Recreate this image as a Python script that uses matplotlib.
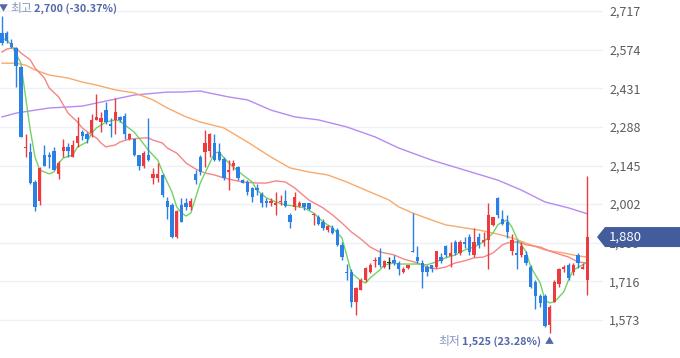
import numpy as np
import matplotlib
matplotlib.use("Agg")
import matplotlib.pyplot as plt
from matplotlib.patches import Polygon
from matplotlib.transforms import ScaledTranslation

plt.rcParams['font.family'] = ['Noto Sans CJK KR', 'DejaVu Sans']

# daily candles (open, high, low, close)
opens = [2635, 2635, 2600, 2580, 2510, 2210, 2195, 2085, 2015, 2185,
         2185, 2200, 2115, 2200, 2215, 2175, 2230, 2270, 2260, 2265,
         2315, 2305, 2350, 2300, 2315, 2325, 2330, 2245, 2245, 2185,
         2145, 2185, 2100, 2100, 2110, 2015, 2000, 1880, 2000, 2005,
         1990, 2115, 2175, 2195, 2200, 2230, 2195, 2170, 2120, 2145,
         2140, 2090, 2085, 2060, 2060, 2040, 2015, 2005, 2000, 2010,
         2015, 1960, 1990, 1995, 2005, 2005, 1960, 1955, 1935, 1905,
         1915, 1905, 1850, 1750, 1750, 1640, 1685, 1720, 1750, 1790,
         1805, 1770, 1785, 1795, 1785, 1750, 1765, 1830, 1805, 1785,
         1770, 1775, 1770, 1805, 1845, 1810, 1860, 1820, 1860, 1880,
         1815, 1880, 1860, 1870, 1925, 2025, 1945, 1935, 1830, 1820,
         1815, 1815, 1770, 1715, 1660, 1660, 1555, 1640, 1705, 1760,
         1775, 1750, 1815, 1760, 1720]
highs = [2700, 2645, 2615, 2585, 2515, 2260, 2230, 2090, 2140, 2220,
         2195, 2215, 2160, 2245, 2230, 2240, 2325, 2275, 2270, 2335,
         2410, 2345, 2380, 2320, 2395, 2330, 2340, 2265, 2245, 2185,
         2200, 2320, 2135, 2155, 2115, 2030, 2005, 1980, 2025, 2025,
         2025, 2130, 2185, 2275, 2265, 2260, 2230, 2175, 2165, 2165,
         2145, 2095, 2090, 2065, 2075, 2045, 2025, 2025, 2045, 2035,
         2055, 1970, 2045, 2015, 2005, 2005, 1970, 1960, 1945, 1925,
         1925, 1915, 1860, 1780, 1760, 1695, 1730, 1770, 1785, 1805,
         1840, 1795, 1805, 1815, 1790, 1770, 1775, 1970, 1845, 1795,
         1775, 1775, 1830, 1820, 1850, 1860, 1870, 1870, 1880, 1890,
         1915, 1895, 1900, 2005, 1955, 2030, 1980, 1960, 1890, 1870,
         1860, 1830, 1775, 1720, 1670, 1670, 1630, 1720, 1765, 1775,
         1785, 1785, 1820, 1785, 2105]
lows = [2590, 2600, 2580, 2435, 2250, 2175, 2075, 1975, 2000, 2145,
        2135, 2130, 2095, 2175, 2175, 2175, 2215, 2240, 2230, 2250,
        2315, 2270, 2300, 2250, 2260, 2305, 2245, 2240, 2180, 2130,
        2135, 2160, 2075, 2085, 2030, 1945, 1875, 1875, 1935, 1980,
        1980, 2075, 2110, 2140, 2175, 2160, 2160, 2090, 2055, 2130,
        2090, 2080, 2035, 2010, 2035, 1990, 1990, 1995, 1960, 2000,
        1990, 1915, 1980, 1990, 1980, 1980, 1925, 1925, 1905, 1900,
        1890, 1845, 1795, 1720, 1620, 1590, 1685, 1715, 1745, 1770,
        1770, 1765, 1760, 1775, 1740, 1745, 1760, 1825, 1785, 1690,
        1735, 1750, 1765, 1785, 1805, 1770, 1815, 1815, 1840, 1815,
        1805, 1840, 1845, 1760, 1920, 1950, 1925, 1875, 1815, 1760,
        1805, 1775, 1690, 1615, 1620, 1545, 1525, 1640, 1695, 1750,
        1720, 1740, 1765, 1760, 1665]
closes = [2600, 2605, 2585, 2515, 2250, 2215, 2080, 1990, 2135, 2145,
          2175, 2130, 2155, 2215, 2200, 2220, 2255, 2255, 2245, 2315,
          2325, 2320, 2305, 2290, 2345, 2315, 2260, 2260, 2185, 2145,
          2190, 2165, 2115, 2115, 2035, 1990, 1880, 1975, 1935, 1990,
          2015, 2090, 2120, 2230, 2260, 2165, 2165, 2100, 2130, 2155,
          2100, 2080, 2045, 2030, 2055, 2005, 2005, 2015, 2005, 2015,
          1995, 1935, 2030, 2005, 1990, 1985, 1965, 1930, 1915, 1920,
          1895, 1850, 1805, 1745, 1640, 1690, 1720, 1765, 1775, 1795,
          1775, 1790, 1785, 1785, 1760, 1760, 1775, 1825, 1790, 1750,
          1750, 1760, 1830, 1790, 1815, 1820, 1820, 1860, 1855, 1825,
          1860, 1850, 1870, 1960, 1955, 1960, 1930, 1900, 1870, 1815,
          1845, 1785, 1695, 1660, 1635, 1550, 1620, 1715, 1760, 1770,
          1730, 1775, 1785, 1770, 1880]

# moving averages (candle index, value)
ma5_idx = [0, 1, 2, 4, 5, 6, 7, 8, 10, 11, 12, 13, 15, 16, 18, 19, 20, 22,
           24, 25, 26, 28, 29, 31, 33, 34, 36, 37, 38, 39, 40, 41, 42, 44,
           45, 46, 47, 49, 51, 53, 54, 56, 58, 60, 62, 64, 66, 68, 70, 72,
           73, 74, 76, 77, 78, 80, 81, 83, 84, 88, 90, 92, 94, 96, 98, 100,
           102, 104, 105, 106, 107, 108, 109, 111, 112, 114, 115, 116, 117,
           119, 120, 121, 123, 124]
ma5_val = [2617, 2610, 2591, 2525, 2399, 2276, 2176, 2128, 2114, 2121, 2154,
           2173, 2184, 2214, 2232, 2265, 2284, 2306, 2314, 2310, 2295, 2269,
           2247, 2202, 2165, 2121, 2047, 1992, 1969, 1958, 1969, 2025, 2080,
           2154, 2191, 2195, 2173, 2139, 2110, 2084, 2054, 2025, 2010, 1999,
           1995, 1988, 1969, 1936, 1914, 1877, 1814, 1747, 1718, 1710, 1729,
           1758, 1777, 1784, 1780, 1780, 1777, 1788, 1803, 1814, 1832, 1843,
           1862, 1895, 1925, 1936, 1943, 1917, 1877, 1825, 1769, 1710, 1647,
           1636, 1640, 1677, 1721, 1758, 1777, 1788]
ma20_idx = [0, 1, 2, 3, 4, 6, 7, 9, 10, 12, 13, 14, 16, 17, 19, 20, 21, 22,
            24, 25, 27, 30, 31, 32, 34, 35, 37, 38, 39, 41, 43, 45, 47, 49,
            51, 54, 56, 58, 60, 62, 65, 68, 70, 72, 74, 76, 78, 80, 83, 85,
            88, 90, 92, 94, 96, 98, 100, 102, 104, 106, 107, 109, 110, 111,
            114, 116, 118, 120, 122, 124]
ma20_val = [2565, 2576, 2580, 2580, 2562, 2536, 2506, 2469, 2432, 2399, 2369,
            2339, 2306, 2284, 2258, 2247, 2228, 2214, 2221, 2232, 2243, 2247,
            2247, 2239, 2228, 2210, 2191, 2173, 2154, 2132, 2117, 2110, 2099,
            2091, 2084, 2080, 2080, 2088, 2084, 2062, 2017, 1988, 1962, 1932,
            1899, 1873, 1843, 1825, 1814, 1799, 1784, 1769, 1762, 1769, 1784,
            1792, 1803, 1806, 1821, 1851, 1858, 1862, 1858, 1851, 1843, 1828,
            1817, 1806, 1788, 1784]
ma60_idx = [0, 3, 5, 7, 10, 14, 17, 20, 24, 28, 32, 35, 39, 42, 47, 52, 57,
            61, 65, 69, 73, 77, 82, 84, 87, 91, 94, 98, 101, 105, 108, 112,
            115, 119, 122, 124]
ma60_val = [2524, 2524, 2517, 2499, 2480, 2469, 2454, 2443, 2425, 2414, 2388,
            2358, 2325, 2306, 2284, 2232, 2176, 2136, 2121, 2110, 2084, 2054,
            2017, 1992, 1969, 1943, 1925, 1914, 1906, 1891, 1877, 1851, 1832,
            1821, 1810, 1806]
ma120_idx = [0, 3, 7, 10, 14, 17, 21, 28, 35, 38, 42, 43, 48, 52, 57, 62, 67,
             73, 79, 84, 91, 98, 105, 110, 115, 120, 124]
ma120_val = [2325, 2339, 2350, 2358, 2362, 2365, 2380, 2406, 2417, 2417, 2421,
             2417, 2399, 2388, 2350, 2325, 2314, 2288, 2251, 2210, 2165, 2128,
             2091, 2054, 2010, 1988, 1966]

yticks = [1573, 1716, 1859, 2002, 2145, 2288, 2431, 2574, 2717]

up_c = '#ec3a3f'
down_c = '#2a80e4'
flat_c = '#333333'

o = np.array(opens)
h = np.array(highs)
l = np.array(lows)
c = np.array(closes)
x = np.arange(len(c))
colors = [up_c if cc > oo else (down_c if cc < oo else flat_c) for oo, cc in zip(o, c)]

fig = plt.figure(figsize=(6.8, 3.58), dpi=100)
ax = fig.add_axes([0, 0, 603 / 680, 1])
ax.set_xlim(-0.42, 127.3)
ax.set_ylim(1432, 2758)

for s in ax.spines.values():
    s.set_visible(False)
ax.set_xticks([])
ax.yaxis.tick_right()
ax.set_yticks(yticks)
ax.set_yticklabels([f"{v:,}" for v in yticks])
ax.tick_params(axis='y', length=0, pad=4.5, labelsize=9, labelcolor='#5c5c5c')
ax.grid(axis='y', color='#eef0f6', lw=1)
ax.set_axisbelow(True)

# moving averages
ax.plot(ma120_idx, ma120_val, color='#b78af3', lw=1)
ax.plot(ma60_idx, ma60_val, color='#f8aa6c', lw=1)
ax.plot(ma20_idx, ma20_val, color='#f68586', lw=1)
ax.plot(ma5_idx, ma5_val, color='#72d363', lw=1)

# candles
ax.vlines(x, l, h, colors=colors, lw=1, zorder=3)
body = np.maximum(np.abs(c - o), 4)
ax.bar(x, body, bottom=np.minimum(o, c), width=0.7, color=colors, zorder=4)

# high / low markers
hi_i = int(np.argmax(h))
lo_i = int(np.argmin(l))
last = closes[-1]
label_c = '#8696c0'
num_c = '#5468a8'

t1 = ax.annotate('▼', xy=(hi_i, h[hi_i]), xytext=(1, 5), textcoords='offset points',
                 ha='center', va='center', fontsize=6.5, color=num_c)
t2 = ax.annotate('최고', xy=(1, 0.5), xycoords=t1, xytext=(1.5, 0), textcoords='offset points',
                 ha='left', va='center', fontsize=8.5, color=label_c)
ax.annotate(f"{h[hi_i]:,} ({(last - h[hi_i]) / h[hi_i] * 100:.2f}%)", xy=(1, 0.5), xycoords=t2,
            xytext=(1.5, 0), textcoords='offset points', ha='left', va='center',
            fontsize=7.8, fontweight='bold', color=num_c)

b1 = ax.annotate('▲', xy=(lo_i, l[lo_i]), xytext=(0, -6.5), textcoords='offset points',
                 ha='center', va='center', fontsize=6.5, color=num_c)
b2 = ax.annotate(f"{l[lo_i]:,} ({(last - l[lo_i]) / l[lo_i] * 100:.2f}%)", xy=(0, 0.5), xycoords=b1,
                 xytext=(-3, 0), textcoords='offset points', ha='right', va='center',
                 fontsize=7.8, fontweight='bold', color=num_c)
ax.annotate('최저', xy=(0, 0.5), xycoords=b2, xytext=(-1.5, 0), textcoords='offset points',
            ha='right', va='center', fontsize=8.5, color=label_c)

# current price tag on the right axis
anchor = ScaledTranslation(1.0, last, ax.get_yaxis_transform())
tag_tr = fig.dpi_scale_trans + anchor
tag = Polygon([(-0.06, 0), (0.02, 0.10), (0.80, 0.10), (0.80, -0.10), (0.02, -0.10)],
              closed=True, transform=tag_tr, facecolor='#425c9c', edgecolor='none',
              clip_on=False, zorder=10)
ax.add_patch(tag)
ax.annotate(f"{last:,}", xy=(1.0, last), xycoords=ax.get_yaxis_transform(),
            xytext=(4.5, 0), textcoords='offset points', ha='left', va='center',
            fontsize=9.5, color='white', zorder=11, annotation_clip=False)

fig.savefig('out.png', dpi=100)
